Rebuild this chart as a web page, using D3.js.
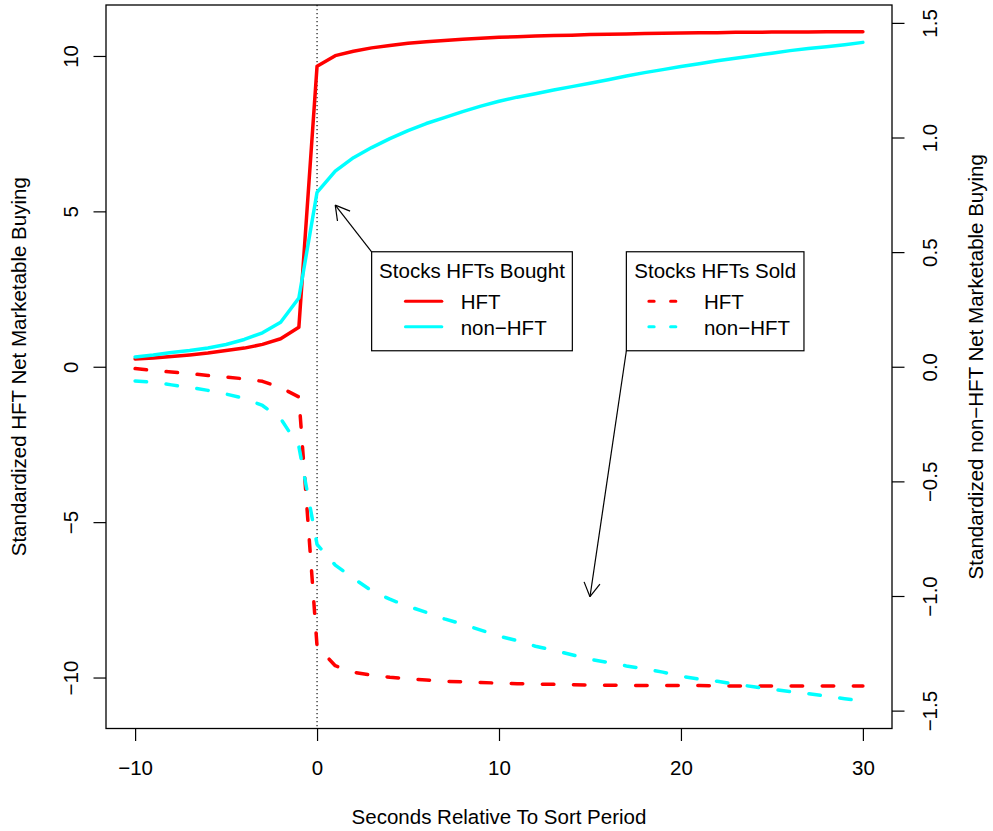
<!DOCTYPE html>
<html><head><meta charset="utf-8">
<script src="https://cdn.jsdelivr.net/npm/d3@7"></script>
<style>
body{margin:0;background:#fff}
text{font-family:"Liberation Sans",Arial,Helvetica,sans-serif;font-size:20.5px;fill:#000}
</style>
</head><body>
<svg id="chart" width="993" height="831"></svg>
<script>
// ---------- data ----------
const seconds = [-10,-9,-8,-7,-6,-5,-4,-3,-2,-1,0,1,2,3,4,5,6,7,8,9,10,11,12,13,14,15,16,17,18,19,20,21,22,23,24,25,26,27,28,29,30];
// left axis (HFT), stocks HFTs bought
const hftBought = [0.25,0.28,0.33,0.38,0.44,0.52,0.60,0.72,0.90,1.27,
  9.67,10.01,10.15,10.26,10.34,10.41,10.46,10.50,10.54,10.57,10.60,10.62,10.64,10.66,10.67,10.69,10.70,10.71,10.72,10.73,10.74,10.75,10.75,10.76,10.76,10.77,10.77,10.77,10.78,10.78,10.78];
// left axis (HFT), stocks HFTs sold
const hftSold = [-0.06,-0.12,-0.17,-0.22,-0.28,-0.33,-0.39,-0.47,-0.67,-0.97,
  -8.99,-9.62,-9.83,-9.92,-9.99,-10.04,-10.08,-10.12,-10.14,-10.16,-10.18,-10.20,-10.21,-10.22,-10.23,-10.24,-10.25,-10.25,-10.26,-10.26,-10.26,-10.26,-10.27,-10.27,-10.27,-10.27,-10.27,-10.27,-10.27,-10.27,-10.27];
// right axis (non-HFT), stocks HFTs bought
const nonHftBought = [0.043,0.051,0.062,0.071,0.082,0.097,0.119,0.148,0.194,0.300,
  0.761,0.853,0.912,0.956,0.995,1.030,1.061,1.087,1.113,1.137,1.158,1.176,1.191,1.207,1.222,1.237,1.252,1.268,1.283,1.296,1.310,1.322,1.335,1.346,1.357,1.368,1.379,1.388,1.396,1.405,1.415];
// right axis (non-HFT), stocks HFTs sold
const nonHftSold = [-0.062,-0.068,-0.079,-0.090,-0.103,-0.119,-0.138,-0.169,-0.226,-0.348,
  -0.775,-0.865,-0.923,-0.977,-1.014,-1.045,-1.071,-1.100,-1.123,-1.149,-1.175,-1.195,-1.219,-1.237,-1.256,-1.276,-1.290,-1.305,-1.318,-1.332,-1.350,-1.362,-1.372,-1.385,-1.396,-1.407,-1.417,-1.426,-1.437,-1.448,-1.459];

const xTicks = [-10,0,10,20,30];
const yLeftTicks = [-10,-5,0,5,10];
const yRightTicks = [-1.5,-1.0,-0.5,0.0,0.5,1.0,1.5];

const xLabel = "Seconds Relative To Sort Period";
const yLeftLabel = "Standardized HFT Net Marketable Buying";
const yRightLabel = "Standardized non\u2212HFT Net Marketable Buying";
const legendTitles = ["Stocks HFTs Bought","Stocks HFTs Sold"];
const legendItems = ["HFT","non\u2212HFT"];

// ---------- layout ----------
const L = 106, R = 892, T = 5, B = 728.5;
const svg = d3.select("#chart");
const x = d3.scaleLinear().domain([-11.6, 31.6]).range([L, R]);
const yL = d3.scaleLinear().domain([-11.64, 11.64]).range([B, T]);
const yR = d3.scaleLinear().domain([-1.578, 1.578]).range([B, T]);

const RED = "#ff0000", CYAN = "#00ffff";

// vertical dotted line at 0
svg.append("line").attr("x1", x(0)).attr("x2", x(0)).attr("y1", T).attr("y2", B)
  .attr("stroke", "#000").attr("stroke-width", 1.1).attr("stroke-dasharray", "1.2,2.8");

// lines
function drawLine(vals, yScale, color, dashed) {
  const line = d3.line().x((d, i) => x(seconds[i])).y(d => yScale(d));
  svg.append("path").datum(vals).attr("d", line)
    .attr("fill", "none").attr("stroke", color).attr("stroke-width", 3.5)
    .attr("stroke-linejoin", "round").attr("stroke-linecap", "round")
    .attr("stroke-dasharray", dashed ? "11.5,19.6" : null);
}
drawLine(hftBought, yL, RED, false);
drawLine(hftSold, yL, RED, true);
drawLine(nonHftBought, yR, CYAN, false);
drawLine(nonHftSold, yR, CYAN, true);

// box
svg.append("rect").attr("x", L).attr("y", T).attr("width", R - L).attr("height", B - T)
  .attr("fill", "none").attr("stroke", "#000").attr("stroke-width", 1.3);

// axes
const tickLen = 12.5;
const gx = svg.append("g").attr("transform", `translate(0,${B})`)
  .call(d3.axisBottom(x).tickValues(xTicks).tickSize(tickLen).tickSizeOuter(0));
gx.select(".domain").remove();
gx.selectAll("text").attr("y", 46).attr("dy", null).style("font-size", null).style("font-family", null);

const gl = svg.append("g").attr("transform", `translate(${L},0)`)
  .call(d3.axisLeft(yL).tickValues(yLeftTicks).tickSize(tickLen).tickSizeOuter(0));
gl.select(".domain").remove();
gl.selectAll("text").attr("x", null).attr("dy", null)
  .attr("text-anchor", "middle").attr("transform", "translate(-28,0) rotate(-90)");

const gr = svg.append("g").attr("transform", `translate(${R},0)`)
  .call(d3.axisRight(yR).tickValues(yRightTicks).tickFormat(d3.format(".1f")).tickSize(tickLen).tickSizeOuter(0));
gr.select(".domain").remove();
gr.selectAll("text").attr("x", null).attr("dy", null)
  .attr("text-anchor", "middle").attr("transform", "translate(45,0) rotate(-90)");

[gx, gl, gr].forEach(g => {
  g.attr("font-family", null).attr("font-size", null);
  g.selectAll("line").attr("stroke", "#000").attr("stroke-width", 1.2);
  g.selectAll("text").attr("fill", "#000");
});

// axis titles
svg.append("text").attr("x", (L + R) / 2).attr("y", 824).attr("text-anchor", "middle").text(xLabel);
svg.append("text").attr("text-anchor", "middle")
  .attr("transform", `translate(26,${(T + B) / 2}) rotate(-90)`).text(yLeftLabel);
svg.append("text").attr("text-anchor", "middle")
  .attr("transform", `translate(983,${(T + B) / 2}) rotate(-90)`).text(yRightLabel);

// legends
function legend(ax, ay, w, title, dashed, lineX0, lineX1, textX) {
  const bx = x(ax), by = yL(ay), h = 99;
  const g = svg.append("g").attr("transform", `translate(${bx},${by})`);
  g.append("rect").attr("width", w).attr("height", h).attr("fill", "#fff")
    .attr("stroke", "#000").attr("stroke-width", 1.2);
  g.append("text").attr("x", w / 2).attr("y", 25.8).attr("text-anchor", "middle").text(title);
  [[RED, 49.6, 57.4], [CYAN, 75, 82.8]].forEach(([c, ly, ty], i) => {
    g.append("line").attr("x1", lineX0).attr("x2", lineX1).attr("y1", ly).attr("y2", ly)
      .attr("stroke", c).attr("stroke-width", 3).attr("stroke-linecap", "round")
      .attr("stroke-dasharray", dashed ? "5.3,16.4" : null);
    g.append("text").attr("x", textX).attr("y", ty).text(legendItems[i]);
  });
  return { bx, by, w, h };
}
const lg1 = legend(3, 3.7, 200.7, legendTitles[0], false, 33.8, 70.2, 89);
const lg2 = legend(17, 3.7, 177.6, legendTitles[1], true, 22.5, 58.9, 77.6);

// arrows
function arrow(x0, y0, x1, y1) {
  const g = svg.append("g").attr("stroke", "#000").attr("stroke-width", 1.2).attr("fill", "none");
  g.append("line").attr("x1", x0).attr("y1", y0).attr("x2", x1).attr("y2", y1);
  const ang = Math.atan2(y0 - y1, x0 - x1), len = 16, a = Math.PI / 6;
  [ang + a, ang - a].forEach(t => {
    g.append("line").attr("x1", x1).attr("y1", y1)
      .attr("x2", x1 + len * Math.cos(t)).attr("y2", y1 + len * Math.sin(t));
  });
}
arrow(lg1.bx, lg1.by, x(1), yL(5.2));
arrow(lg2.bx, lg2.by + lg2.h, x(15), yL(-7.4));
</script>
</body></html>
